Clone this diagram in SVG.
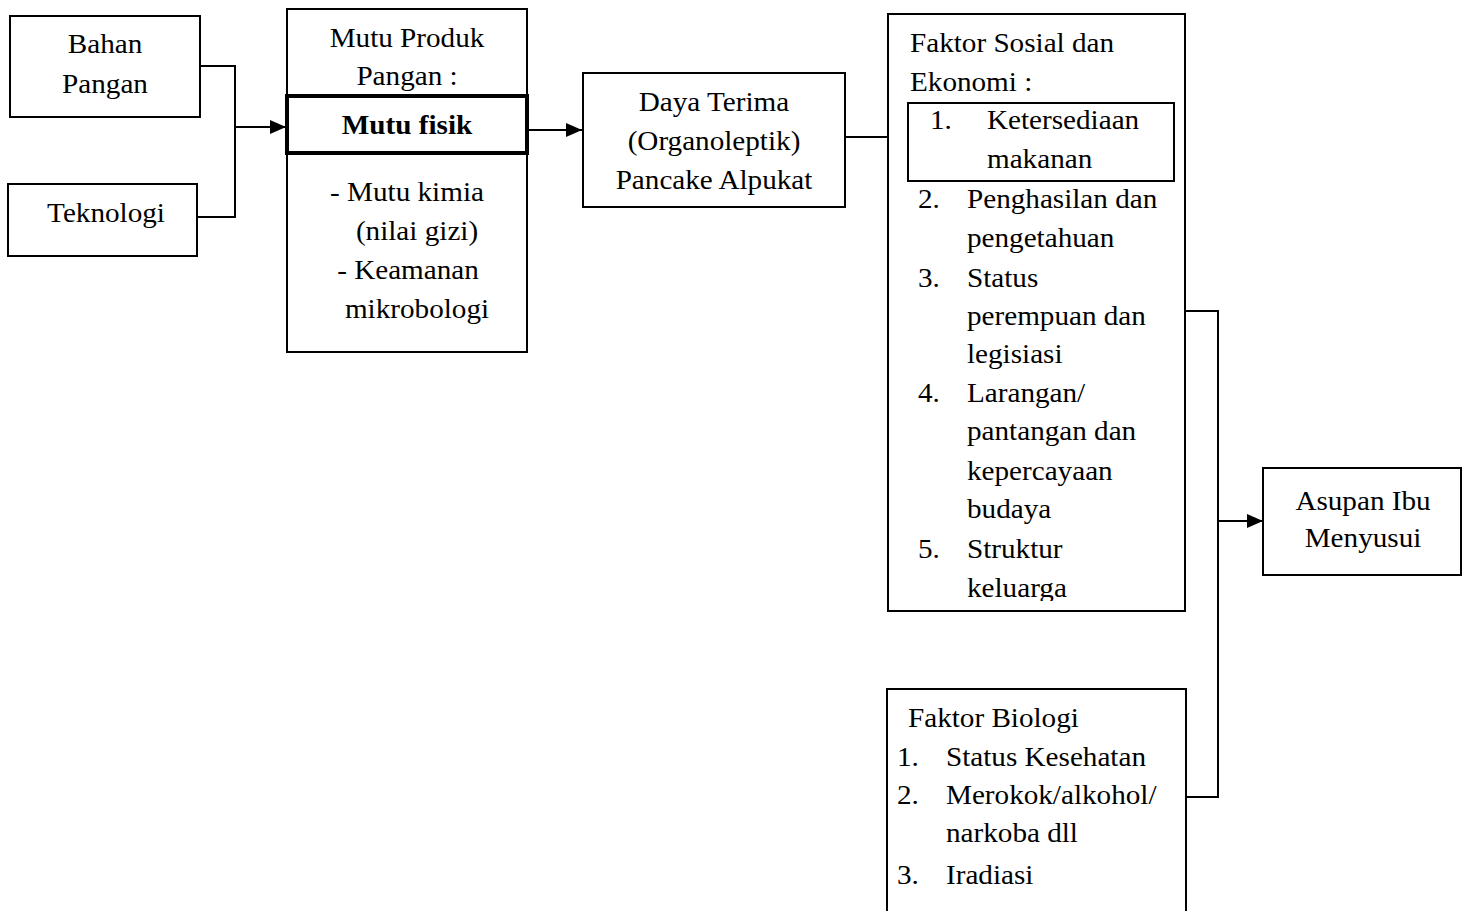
<svg xmlns="http://www.w3.org/2000/svg" width="1467" height="911" viewBox="0 0 1467 911">
<style>
.box{fill:#fff;stroke:#000;stroke-width:2}
.bold{fill:none;stroke:#000;stroke-width:4}
.ln{fill:none;stroke:#000;stroke-width:2}
text{font-family:"Liberation Serif","Times New Roman",serif;font-size:27px;fill:#000}
.c{text-anchor:middle}
.b{font-weight:bold}
</style>
<defs>
<marker id="ah" markerWidth="16" markerHeight="14" refX="16" refY="7" orient="auto" markerUnits="userSpaceOnUse">
<path d="M0,0 L16,7 L0,14 Z" fill="#000"/>
</marker>
<clipPath id="clipSos"><rect x="880" y="0" width="320" height="601"/></clipPath>
</defs>
<rect width="1467" height="911" fill="#fff"/>

<g id="connectors">
<path class="ln" d="M200,66 H235 V217 H198"/>
<path class="ln" d="M235,127 H286" marker-end="url(#ah)"/>
<path class="ln" d="M528,130 H582" marker-end="url(#ah)"/>
<path class="ln" d="M845,137 H908"/>
<path class="ln" d="M1185,311 H1218 V797 H1187"/>
<path class="ln" d="M1218,521 H1263" marker-end="url(#ah)"/>
</g>

<g id="bahan-pangan">
<rect class="box" x="10" y="16" width="190" height="101"/>
<text class="c" transform="translate(105,53) scale(1.08,1)">Bahan</text>
<text class="c" transform="translate(105,93) scale(1.08,1)">Pangan</text>
</g>

<g id="teknologi">
<rect class="box" x="8" y="184" width="189" height="72"/>
<text class="c" transform="translate(106,222) scale(1.08,1)">Teknologi</text>
</g>

<g id="mutu-produk">
<rect class="box" x="287" y="9" width="240" height="343"/>
<text class="c" transform="translate(407,47) scale(1.08,1)">Mutu Produk</text>
<text class="c" transform="translate(407,85) scale(1.08,1)">Pangan :</text>
<rect class="bold" x="287" y="96" width="240" height="57"/>
<text class="c b" transform="translate(407,134) scale(1.08,1)">Mutu fisik</text>
<text class="c" transform="translate(407,201) scale(1.08,1)">- Mutu kimia</text>
<text class="c" transform="translate(417,240) scale(1.08,1)">(nilai gizi)</text>
<text class="c" transform="translate(408,279) scale(1.08,1)">- Keamanan</text>
<text class="c" transform="translate(417,318) scale(1.08,1)">mikrobologi</text>
</g>

<g id="daya-terima">
<rect class="box" x="583" y="73" width="262" height="134"/>
<text class="c" transform="translate(714,111) scale(1.08,1)">Daya Terima</text>
<text class="c" transform="translate(714,150) scale(1.08,1)">(Organoleptik)</text>
<text class="c" transform="translate(714,189) scale(1.08,1)">Pancake Alpukat</text>
</g>

<g id="faktor-sosial">
<rect class="box" x="888" y="14" width="297" height="597"/>
<text transform="translate(910,52) scale(1.08,1)">Faktor Sosial dan</text>
<text transform="translate(910,91) scale(1.08,1)">Ekonomi :</text>
<rect class="box" x="908" y="103" width="266" height="78"/>
<text transform="translate(930,129) scale(1.08,1)">1.</text>
<text transform="translate(987,129) scale(1.08,1)">Ketersediaan</text>
<text transform="translate(987,168) scale(1.08,1)">makanan</text>
<text transform="translate(918,208) scale(1.08,1)">2.</text>
<text transform="translate(967,208) scale(1.08,1)">Penghasilan dan</text>
<text transform="translate(967,247) scale(1.08,1)">pengetahuan</text>
<text transform="translate(918,287) scale(1.08,1)">3.</text>
<text transform="translate(967,287) scale(1.08,1)">Status</text>
<text transform="translate(967,325) scale(1.08,1)">perempuan dan</text>
<text transform="translate(967,363) scale(1.08,1)">legisiasi</text>
<text transform="translate(918,402) scale(1.08,1)">4.</text>
<text transform="translate(967,402) scale(1.08,1)">Larangan/</text>
<text transform="translate(967,440) scale(1.08,1)">pantangan dan</text>
<text transform="translate(967,480) scale(1.08,1)">kepercayaan</text>
<text transform="translate(967,518) scale(1.08,1)">budaya</text>
<text transform="translate(918,558) scale(1.08,1)">5.</text>
<text transform="translate(967,558) scale(1.08,1)">Struktur</text>
<g clip-path="url(#clipSos)"><text transform="translate(967,597) scale(1.08,1)">keluarga</text></g>
</g>

<g id="faktor-biologi">
<path class="box" d="M887,915 V689 H1186 V915"/>
<text transform="translate(908,727) scale(1.08,1)">Faktor Biologi</text>
<text transform="translate(897,766) scale(1.08,1)">1.</text>
<text transform="translate(946,766) scale(1.08,1)">Status Kesehatan</text>
<text transform="translate(897,804) scale(1.08,1)">2.</text>
<text transform="translate(946,804) scale(1.08,1)">Merokok/alkohol/</text>
<text transform="translate(946,842) scale(1.08,1)">narkoba dll</text>
<text transform="translate(897,884) scale(1.08,1)">3.</text>
<text transform="translate(946,884) scale(1.08,1)">Iradiasi</text>
</g>

<g id="asupan">
<rect class="box" x="1263" y="468" width="198" height="107"/>
<text class="c" transform="translate(1363,510) scale(1.08,1)">Asupan Ibu</text>
<text class="c" transform="translate(1363,547) scale(1.08,1)">Menyusui</text>
</g>
</svg>
